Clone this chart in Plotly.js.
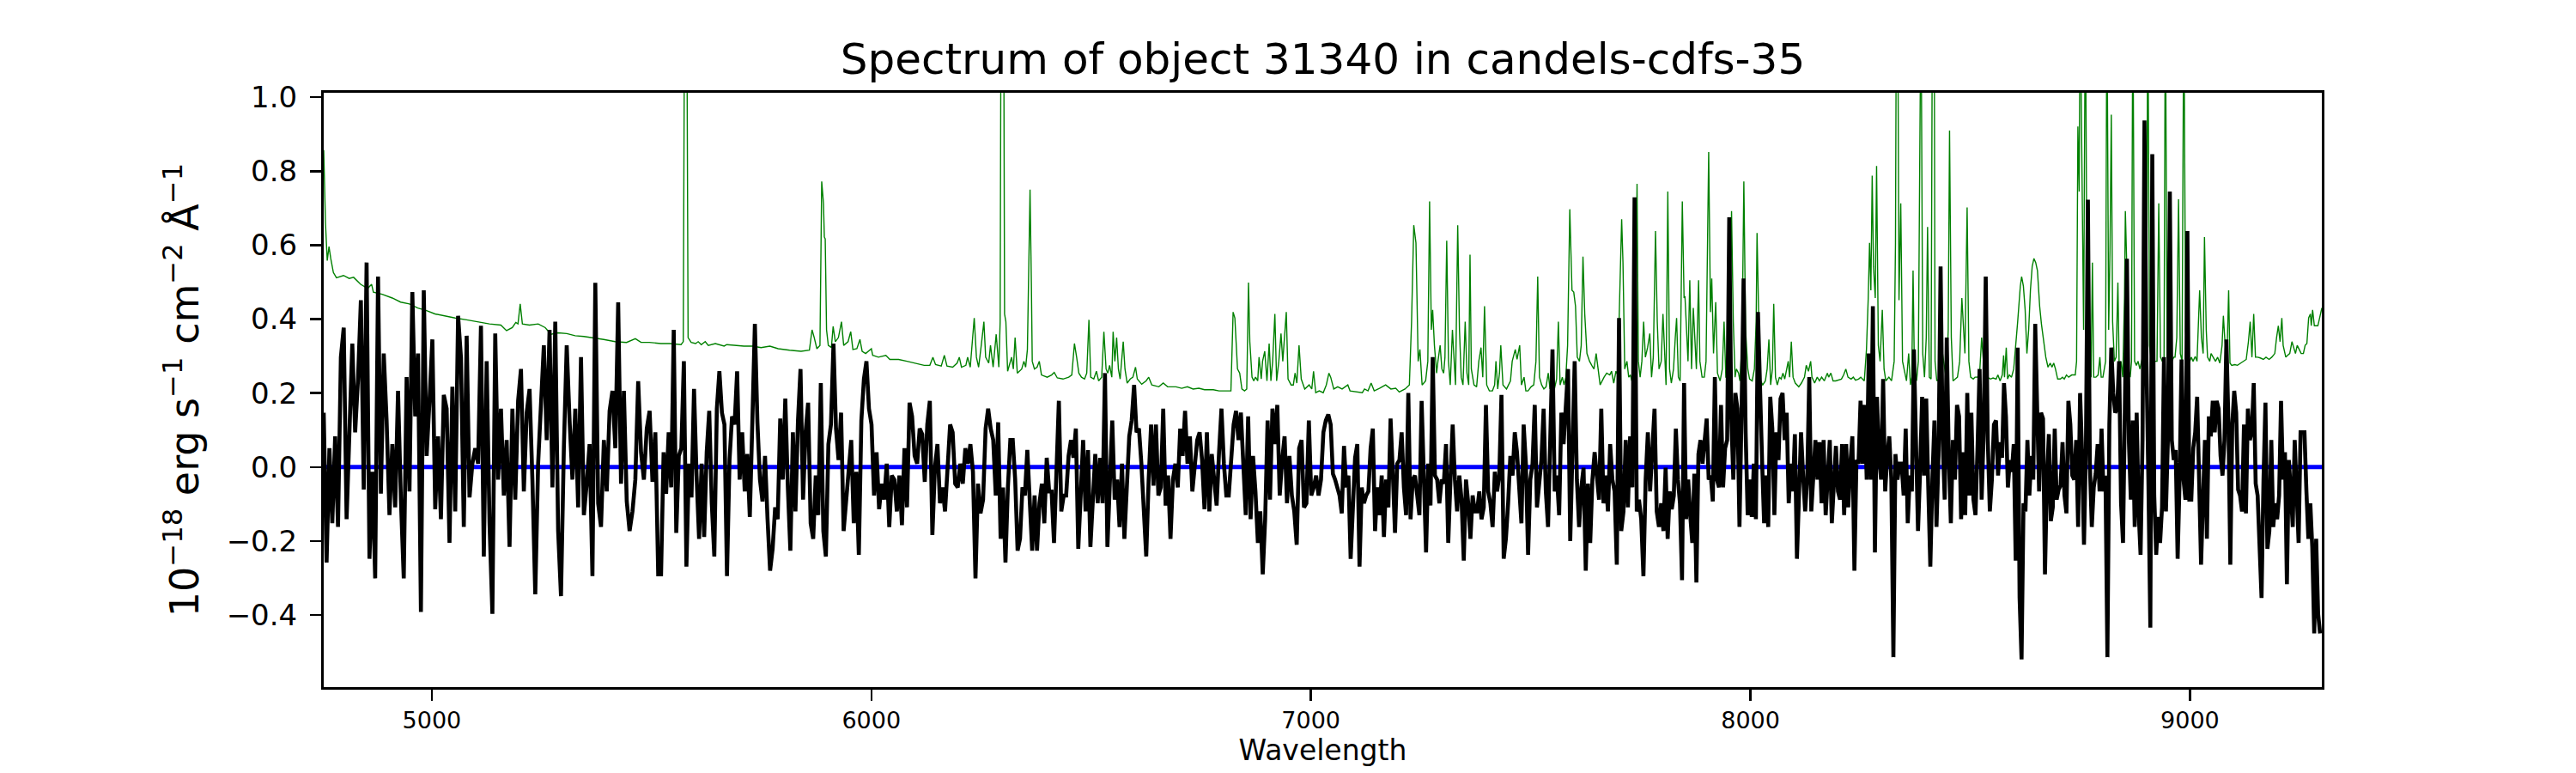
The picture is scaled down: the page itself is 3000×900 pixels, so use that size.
<!DOCTYPE html>
<html>
<head>
<meta charset="utf-8">
<script src="https://cdn.plot.ly/plotly-3.0.1.min.js"></script>
<style>html,body{margin:0;padding:0;background:#fff;}#chart{width:3000px;height:900px;}</style>
</head>
<body>
<div id="chart"></div>
<script>
// ---------- DATA ----------
const titleText = 'Spectrum of object 31340 in candels-cdfs-35';
const xLabel = 'Wavelength';
const yLabel = '10<sup>−18</sup> erg s<sup>−1</sup> cm<sup>−2</sup> Å<sup>−1</sup>';
const xTicks = [5000, 6000, 7000, 8000, 9000];
const yTicks = [-0.4, -0.2, 0.0, 0.2, 0.4, 0.6, 0.8, 1.0];

// observed spectrum: wavelength edges of six stretches, fluxes sampled evenly inside each
const segEdges = [4754, 5521.5, 6283, 7045, 7807, 8568, 9296];
const fluxSeg1 = [0.147,-0.258,0.051,-0.152,0.083,-0.162,0.297,0.377,-0.141,0.115,0.334,0.094,0.238,0.451,-0.061,0.553,-0.248,-0.013,-0.301,0.515,-0.072,0.307,0.126,-0.130,0.062,-0.109,0.206,-0.088,-0.301,0.243,-0.066,0.473,0.137,0.307,-0.392,0.478,0.030,0.179,0.345,-0.114,0.083,-0.141,0.195,0.158,-0.205,0.217,-0.120,0.409,0.297,-0.162,0.355,-0.082,0.009,0.051,0.009,0.382,-0.242,0.286,-0.152,-0.397,0.361,-0.034,0.158,-0.077,0.073,-0.216,0.158,-0.088,0.179,0.265,-0.066,0.147,0.211,-0.034,-0.344,0.009,0.190,0.329,0.073,0.371,-0.055,0.393,-0.173,-0.349,0.051,0.329,0.126,-0.034,0.158,-0.109,0.297,-0.130,-0.045,0.062,-0.295,0.498,-0.098,-0.162,0.073,-0.066,0.152,0.206,0.051,0.445,-0.045,0.206,-0.093,-0.173,-0.120,-0.034,0.232,0.040,-0.034,0.104,0.152,-0.040,0.094,-0.290];
const fluxSeg2 = [-0.290,0.040,-0.072,0.094,-0.055,0.371,-0.178,0.030,0.051,0.286,-0.269,0.009,-0.082,0.211,-0.023,-0.194,0.009,-0.189,0.040,0.152,-0.098,-0.242,0.158,0.259,0.147,0.115,-0.295,0.019,0.137,0.115,0.259,-0.034,0.094,-0.066,0.035,-0.135,0.121,0.387,0.121,-0.034,-0.093,0.030,-0.141,-0.280,-0.221,-0.109,-0.141,0.131,-0.034,0.185,-0.055,-0.226,0.094,-0.120,0.126,0.265,-0.088,0.094,0.174,-0.152,-0.194,-0.023,-0.130,0.227,-0.173,-0.242,0.062,0.115,0.334,0.104,0.019,0.147,-0.173,-0.088,-0.013,0.073,-0.152,-0.013,-0.237,0.126,0.238,0.286,0.158,0.115,-0.077,0.040,-0.114,-0.045,-0.088,0.009,-0.162,-0.023,-0.034,-0.120,-0.023,-0.157,0.051,-0.109,0.174,0.137,0.030,0.009,0.104,0.089,-0.040,0.115,0.179,-0.184,-0.002,0.062,-0.098,-0.055,-0.120,0.025,0.115,0.094,-0.045,-0.055,0.009,-0.045,0.051,0.009,0.062,-0.013,-0.301,-0.045,-0.125,-0.088,0.104,0.158,0.104,0.073];
const fluxSeg3 = [-0.077,0.121,-0.194,-0.055,-0.258,-0.055,0.073,0.073,-0.034,-0.226,-0.194,-0.055,-0.077,0.046,-0.098,-0.226,-0.077,-0.226,-0.098,-0.045,-0.152,0.025,-0.066,-0.066,-0.205,-0.045,0.179,-0.120,-0.077,-0.077,0.030,0.073,0.025,0.104,-0.221,-0.077,0.073,-0.120,0.046,-0.216,-0.109,0.035,-0.098,0.025,-0.098,0.254,-0.216,-0.034,0.126,-0.088,-0.034,-0.162,0.009,-0.194,-0.034,0.083,0.126,0.222,0.094,0.104,0.009,-0.120,-0.242,-0.034,0.115,-0.050,0.115,-0.077,-0.055,0.158,-0.104,-0.023,-0.194,-0.034,0.009,-0.055,0.104,0.030,0.152,0.009,0.083,-0.066,0.009,0.073,0.094,0.019,-0.114,0.094,-0.120,0.035,-0.034,-0.104,0.040,0.158,0.009,-0.077,-0.077,0.040,0.115,0.152,0.073,0.147,-0.018,-0.130,0.137,-0.141,0.030,-0.066,-0.205,-0.120,-0.290,-0.141,0.126,-0.088,0.158,0.062,0.168,-0.077,0.019,0.083,-0.098,0.030,-0.077,-0.120,-0.210,0.051,0.073,-0.109,-0.098,0.126,-0.077,-0.055,-0.023,-0.077,-0.034,0.094,0.126,0.142];
const fluxSeg4 = [0.115,-0.018,-0.034,-0.055,-0.077,-0.125,0.057,-0.055,-0.023,-0.248,-0.120,0.025,0.062,-0.269,-0.055,-0.098,-0.077,-0.066,0.051,0.104,-0.173,-0.055,-0.130,-0.023,-0.189,-0.034,-0.109,0.131,-0.013,-0.178,0.009,0.019,0.094,-0.055,-0.130,0.200,-0.141,-0.034,-0.023,-0.077,-0.130,0.179,-0.034,-0.231,0.009,-0.104,0.297,-0.023,-0.034,-0.098,-0.034,-0.045,0.062,-0.205,-0.034,0.115,-0.034,-0.120,-0.023,-0.088,-0.253,-0.034,-0.098,-0.194,-0.077,-0.120,-0.120,-0.066,-0.141,-0.109,0.168,-0.066,-0.098,-0.162,-0.013,-0.066,-0.023,0.195,-0.248,-0.194,-0.098,0.030,-0.023,0.094,0.040,-0.045,-0.152,0.115,0.009,-0.237,-0.034,0.009,0.168,-0.109,-0.055,0.019,0.158,-0.066,-0.162,0.126,0.318,-0.066,-0.023,-0.130,0.147,0.062,0.158,0.265,-0.200,0.051,0.286,-0.034,-0.162,-0.055,-0.002,-0.280,-0.045,-0.205,-0.034,0.040,-0.034,-0.088,0.158,-0.098,-0.023,-0.120,0.062,-0.034,-0.066,-0.264,0.403,-0.173,-0.120,0.073,-0.109,0.083,-0.055,0.729,-0.120,-0.088,-0.141,-0.295,-0.034,0.094,-0.066,0.073,0.158,-0.120,-0.162,-0.098,-0.173];
const fluxSeg5 = [-0.002,-0.194,-0.066,-0.114,-0.077,0.104,-0.034,-0.098,-0.306,0.227,-0.141,-0.034,-0.130,-0.205,-0.018,-0.312,0.035,0.073,0.009,0.083,0.131,-0.034,-0.023,-0.093,0.243,-0.034,-0.055,0.168,-0.055,0.051,0.073,0.675,0.137,-0.034,0.200,0.158,-0.162,0.147,0.510,0.094,-0.130,-0.034,-0.135,0.009,-0.141,0.419,0.179,0.019,-0.152,-0.023,-0.162,0.190,0.104,-0.130,0.094,0.019,0.185,0.200,0.073,0.147,-0.098,0.009,-0.066,0.089,-0.248,-0.034,0.094,-0.023,-0.120,-0.034,0.243,-0.120,-0.023,0.073,-0.034,0.067,-0.098,0.073,-0.130,-0.023,0.073,-0.152,-0.034,0.057,-0.066,-0.088,0.062,-0.130,0.062,-0.109,0.009,0.083,-0.280,0.019,0.009,0.179,0.009,0.168,-0.034,0.307,-0.034,0.435,-0.231,0.190,0.030,-0.034,0.238,-0.066,0.030,0.083,-0.034,-0.514,0.035,-0.034,0.009,0.009,-0.077,0.104,-0.152,-0.023,-0.066,0.318,0.073,-0.173,-0.013,0.190,-0.023,0.185,-0.055,-0.269,-0.034,0.126,-0.162,0.030,0.542,0.078,-0.088,0.350,0.030,-0.152,0.073,-0.034,0.168,0.137,-0.141,0.040,-0.130,0.200,-0.077,0.147,-0.088,-0.130,0.051,0.265,-0.088,0.094,0.515,0.073,-0.120,-0.034,0.115,0.126,-0.023];
const fluxSeg6 = [0.067,0.025,0.227,0.137,-0.055,0.019,-0.013,0.062,-0.253,0.323,-0.354,-0.520,-0.098,-0.120,0.073,-0.077,0.030,-0.034,0.387,0.158,-0.066,0.147,0.131,-0.290,-0.034,0.089,-0.146,-0.109,0.104,-0.088,-0.061,-0.050,0.067,-0.077,-0.125,0.179,0.115,-0.023,-0.034,0.073,-0.162,0.200,0.040,-0.210,0.051,0.723,0.009,-0.162,-0.055,-0.018,0.062,-0.066,0.104,-0.066,-0.023,-0.514,0.115,0.323,0.200,0.147,0.158,0.286,-0.098,-0.205,0.115,0.563,0.073,-0.088,0.126,-0.162,0.147,-0.120,-0.237,0.073,0.937,0.286,-0.034,-0.434,0.846,-0.077,-0.237,-0.135,-0.205,-0.109,0.297,-0.120,0.073,0.745,0.073,0.019,0.046,-0.248,-0.034,0.291,-0.034,-0.088,0.638,-0.088,-0.088,0.051,0.094,0.190,-0.034,-0.264,-0.088,0.073,-0.194,0.137,0.083,0.179,0.094,0.179,0.158,0.030,-0.023,0.073,0.345,0.126,-0.264,0.115,0.206,0.147,-0.061,-0.077,-0.120,0.115,-0.125,0.158,0.073,0.094,0.227,-0.045,-0.077,-0.205,-0.354,-0.034,0.174,-0.221,-0.173,0.073,-0.162,-0.098,-0.141,-0.077,0.179,-0.034,0.040,-0.317,0.019,-0.066,-0.162,0.073,-0.055,-0.205,0.094,0.094,0.094,-0.066,-0.194,-0.098,-0.216,-0.450,-0.194,-0.397,-0.450];

// noise / sky model (green)
const modelLam1 = [4754,4758,4762,4766,4770,4776,4783,4799,4812,4822,4838,4854,4863,4867,4887,4910,4929,4949,4968,4988,5007,5027,5053,5079,5105,5131,5157,5170,5183,5191,5196,5201,5206,5222,5242,5258,5271,5287,5307,5326,5346,5365,5391,5417,5443,5463,5476,5495];
const modelFlux1 = [0.857,0.660,0.558,0.596,0.564,0.526,0.512,0.518,0.510,0.513,0.494,0.483,0.494,0.473,0.467,0.457,0.446,0.441,0.430,0.423,0.414,0.409,0.403,0.398,0.393,0.387,0.384,0.369,0.377,0.391,0.387,0.441,0.387,0.384,0.387,0.377,0.359,0.363,0.361,0.355,0.353,0.350,0.345,0.339,0.337,0.347,0.337,0.337];
const modelLam2 = [5521,5541,5567,5572,5575,5580,5583,5590,5600,5606,5613,5622,5629,5645,5665,5671,5691,5710,5730,5749,5769,5788,5814,5840,5859,5865,5870,5876,5883,5887,5891,5893,5895,5898,5902,5909,5913,5918,5925,5932,5937,5941,5947,5953,5958,5967,5974,5979,5987,6000,6003,6016,6033,6042,6062,6081,6101,6120,6133,6140,6146,6159,6166,6172,6185,6195,6200,6205,6215,6219,6225,6230,6234,6239,6244,6250,6256,6260,6267,6271,6277];
const modelFlux2 = [0.334,0.334,0.331,0.339,1.30,1.30,0.350,0.337,0.334,0.339,0.331,0.339,0.329,0.334,0.327,0.331,0.329,0.327,0.327,0.323,0.327,0.320,0.316,0.313,0.316,0.371,0.350,0.320,0.329,0.772,0.713,0.622,0.617,0.371,0.329,0.323,0.380,0.339,0.350,0.393,0.329,0.334,0.339,0.366,0.318,0.320,0.345,0.313,0.307,0.320,0.302,0.297,0.302,0.291,0.291,0.286,0.281,0.275,0.275,0.297,0.277,0.273,0.302,0.273,0.270,0.281,0.297,0.270,0.275,0.297,0.270,0.339,0.403,0.297,0.270,0.329,0.393,0.297,0.281,0.329,0.270];
const modelLam3 = [6284,6290,6293,6295,6301,6303,6306,6310,6319,6323,6327,6332,6342,6347,6351,6355,6359,6361,6364,6366,6371,6377,6382,6387,6400,6410,6416,6423,6436,6449,6456,6462,6467,6472,6478,6485,6490,6495,6499,6506,6512,6517,6524,6529,6534,6538,6542,6547,6550,6554,6558,6562,6566,6573,6577,6582,6589,6595,6601,6605,6615,6625,6631,6638,6654,6664,6674,6693,6706,6719,6732,6745,6758,6778,6791,6818,6823,6827,6833,6838,6843,6849,6854,6858,6861,6866,6870,6874,6879,6882,6887,6890,6895,6900,6905,6909,6913,6918,6922,6927,6932,6936,6944,6948,6955,6960,6964,6968,6973,6978,6986,6996,7002,7006,7011,7019,7028,7035,7041];
const modelFlux3 = [0.359,0.270,0.393,1.30,1.30,0.414,0.393,0.259,0.297,0.265,0.350,0.254,0.265,0.286,0.270,0.318,0.606,0.750,0.499,0.286,0.265,0.270,0.286,0.249,0.243,0.249,0.256,0.241,0.238,0.243,0.249,0.334,0.297,0.254,0.243,0.238,0.254,0.398,0.243,0.238,0.259,0.233,0.243,0.366,0.265,0.254,0.275,0.243,0.366,0.286,0.350,0.265,0.238,0.339,0.265,0.227,0.238,0.243,0.270,0.238,0.224,0.233,0.243,0.222,0.217,0.227,0.217,0.217,0.213,0.217,0.211,0.213,0.209,0.209,0.206,0.206,0.419,0.403,0.265,0.254,0.211,0.206,0.211,0.499,0.339,0.243,0.233,0.243,0.233,0.297,0.238,0.286,0.313,0.233,0.334,0.233,0.286,0.414,0.233,0.286,0.361,0.286,0.419,0.238,0.222,0.222,0.254,0.227,0.329,0.238,0.211,0.222,0.211,0.259,0.201,0.206,0.201,0.222,0.254];
const modelLam4 = [7045,7052,7061,7071,7078,7084,7089,7104,7117,7122,7130,7137,7144,7156,7170,7182,7193,7201,7214,7224,7229,7234,7239,7244,7248,7253,7261,7266,7270,7274,7277,7281,7286,7289,7294,7298,7302,7305,7309,7313,7317,7322,7325,7329,7334,7338,7342,7346,7351,7355,7359,7362,7365,7371,7377,7382,7387,7391,7395,7400,7406,7413,7418,7421,7425,7429,7432,7437,7445,7454,7458,7465,7469,7475,7479,7485,7489,7494,7501,7507,7512,7516,7520,7525,7530,7535,7540,7544,7550,7554,7559,7563,7567,7572,7576,7580,7584,7589,7594,7598,7602,7606,7611,7615,7619,7623,7628,7634,7639,7644,7649,7654,7658,7667,7673,7680,7684,7689,7694,7698,7703,7707,7710,7714,7719,7723,7727,7730,7733,7738,7742,7745,7749,7753,7757,7761,7766,7771,7775,7779,7784,7788,7792,7797,7801];
const modelFlux4 = [0.243,0.211,0.217,0.211,0.217,0.222,0.206,0.203,0.201,0.211,0.206,0.227,0.206,0.213,0.222,0.211,0.213,0.203,0.211,0.222,0.393,0.654,0.606,0.286,0.318,0.222,0.233,0.286,0.718,0.371,0.425,0.329,0.254,0.286,0.329,0.265,0.254,0.297,0.612,0.286,0.222,0.371,0.297,0.222,0.654,0.371,0.243,0.222,0.393,0.254,0.222,0.574,0.265,0.222,0.217,0.286,0.323,0.243,0.435,0.222,0.206,0.206,0.222,0.286,0.211,0.254,0.329,0.222,0.211,0.233,0.286,0.318,0.291,0.329,0.222,0.243,0.206,0.206,0.217,0.222,0.286,0.515,0.243,0.222,0.211,0.217,0.254,0.211,0.270,0.211,0.238,0.393,0.222,0.243,0.222,0.243,0.329,0.697,0.478,0.473,0.435,0.297,0.286,0.329,0.569,0.414,0.307,0.286,0.275,0.265,0.307,0.265,0.222,0.243,0.254,0.249,0.259,0.227,0.259,0.249,0.521,0.670,0.553,0.265,0.286,0.243,0.249,0.233,0.254,0.286,0.766,0.286,0.243,0.286,0.393,0.297,0.323,0.361,0.243,0.297,0.638,0.393,0.265,0.286,0.414];
const modelLam5 = [7808,7812,7816,7820,7825,7829,7832,7836,7840,7845,7849,7851,7855,7858,7862,7866,7870,7873,7877,7882,7885,7890,7895,7899,7905,7909,7912,7916,7921,7925,7931,7936,7940,7944,7949,7953,7957,7961,7965,7968,7973,7976,7981,7985,7989,7994,7998,8004,8009,8013,8015,8019,8023,8028,8034,8038,8042,8046,8050,8053,8057,8061,8066,8070,8074,8078,8082,8086,8089,8093,8097,8102,8110,8116,8123,8127,8132,8137,8140,8146,8152,8157,8162,8168,8175,8178,8183,8188,8194,8201,8207,8212,8217,8222,8229,8234,8239,8246,8251,8259,8264,8268,8271,8274,8277,8280,8284,8287,8291,8295,8300,8304,8308,8315,8321,8327,8330,8332,8335,8338,8342,8346,8350,8355,8360,8364,8367,8370,8373,8378,8382,8385,8388,8392,8396,8400,8403,8407,8411,8414,8418,8420,8424,8429,8432,8437,8442,8446,8450,8453,8457,8461,8466,8471,8476,8481,8484,8488,8493,8497,8501,8507,8511,8517,8522,8526,8530,8535,8539,8546,8552,8559,8563];
const modelFlux5 = [0.222,0.745,0.265,0.227,0.265,0.350,0.403,0.243,0.233,0.718,0.457,0.462,0.350,0.286,0.505,0.265,0.430,0.371,0.265,0.505,0.286,0.243,0.243,0.286,0.852,0.419,0.510,0.307,0.446,0.254,0.233,0.265,0.393,0.243,0.238,0.286,0.692,0.393,0.243,0.265,0.254,0.233,0.339,0.772,0.371,0.265,0.238,0.233,0.265,0.393,0.633,0.393,0.233,0.222,0.233,0.265,0.345,0.222,0.265,0.441,0.243,0.222,0.243,0.238,0.254,0.238,0.265,0.286,0.243,0.339,0.243,0.227,0.217,0.227,0.243,0.275,0.259,0.286,0.243,0.227,0.243,0.233,0.243,0.233,0.254,0.243,0.254,0.233,0.233,0.235,0.238,0.249,0.265,0.243,0.238,0.243,0.235,0.238,0.243,0.233,0.318,0.457,0.606,0.478,0.788,0.542,0.457,0.814,0.329,0.286,0.425,0.265,0.233,0.243,0.233,0.286,0.606,1.30,1.30,0.451,0.713,0.286,0.265,0.233,0.307,0.222,0.243,0.531,0.265,0.233,0.286,1.30,1.30,0.307,0.243,0.350,0.649,0.243,0.238,1.30,1.30,0.286,0.233,0.238,0.233,0.307,0.265,0.233,0.371,0.910,0.350,0.233,0.238,0.243,0.286,0.457,0.393,0.307,0.702,0.286,0.243,0.238,0.243,0.243,0.265,0.350,0.286,0.265,0.243,0.238,0.241,0.238,0.249];
const modelLam6 = [8568,8573,8576,8578,8582,8585,8589,8594,8599,8604,8608,8614,8617,8621,8625,8629,8633,8637,8641,8645,8649,8653,8658,8662,8667,8672,8677,8682,8686,8690,8694,8699,8705,8710,8714,8719,8724,8731,8739,8742,8745,8748,8750,8754,8758,8762,8766,8771,8775,8778,8781,8786,8791,8795,8798,8802,8808,8811,8815,8818,8821,8824,8828,8832,8836,8839,8843,8847,8851,8853,8856,8860,8864,8867,8870,8874,8878,8882,8886,8890,8894,8897,8901,8904,8908,8912,8916,8920,8925,8929,8933,8937,8941,8944,8948,8952,8955,8959,8963,8966,8970,8974,8978,8982,8986,8990,8994,8998,9003,9007,9012,9016,9020,9022,9026,9030,9033,9037,9040,9045,9048,9053,9058,9063,9068,9073,9076,9079,9084,9088,9091,9095,9102,9108,9115,9121,9128,9133,9137,9141,9145,9149,9154,9160,9167,9173,9180,9186,9193,9197,9201,9205,9209,9212,9218,9222,9227,9232,9236,9240,9244,9248,9253,9258,9262,9266,9270,9274,9276,9279,9283,9287,9291,9300];
const modelFlux6 = [0.233,0.249,0.302,0.243,0.323,0.238,0.249,0.243,0.265,0.329,0.393,0.489,0.515,0.489,0.425,0.307,0.371,0.478,0.542,0.564,0.553,0.531,0.435,0.387,0.339,0.297,0.270,0.281,0.270,0.281,0.265,0.238,0.238,0.243,0.238,0.249,0.243,0.249,0.249,0.286,0.921,0.745,1.30,0.820,0.371,1.30,0.393,0.286,0.243,0.553,0.243,0.243,0.249,0.297,0.243,0.243,0.286,1.30,0.371,0.585,0.953,0.393,0.286,0.297,0.499,0.265,0.286,0.243,0.457,0.692,0.553,0.265,0.243,0.286,1.30,0.286,0.275,0.286,0.265,0.286,0.307,0.286,0.286,1.30,0.329,0.286,0.318,0.286,0.286,0.713,0.297,0.286,0.297,1.30,0.297,0.286,0.318,0.286,0.297,0.297,0.350,0.724,0.307,0.286,1.30,0.371,0.286,0.281,0.297,0.286,0.299,0.286,0.414,0.478,0.350,0.307,0.622,0.371,0.297,0.286,0.307,0.297,0.286,0.297,0.281,0.329,0.409,0.350,0.286,0.478,0.281,0.275,0.277,0.275,0.281,0.286,0.291,0.339,0.393,0.297,0.414,0.297,0.297,0.295,0.291,0.297,0.291,0.297,0.307,0.350,0.382,0.339,0.403,0.329,0.297,0.302,0.307,0.339,0.323,0.307,0.329,0.318,0.307,0.307,0.329,0.334,0.403,0.414,0.382,0.425,0.382,0.382,0.382,0.43];

// zero reference level
const zeroLam = [4754, 9300];
const zeroFlux = [0, 0];

// ---------- BUILD ----------
const fluxSegs = [fluxSeg1, fluxSeg2, fluxSeg3, fluxSeg4, fluxSeg5, fluxSeg6];
const specLam = [], specFlux = [];
fluxSegs.forEach((seg, k) => {
  const a = segEdges[k], b = segEdges[k + 1];
  const last = k === fluxSegs.length - 1;
  const n = seg.length;
  seg.forEach((v, i) => {
    const t = last ? i / (n - 1) : i / n;
    specLam.push(a + t * (b - a));
    specFlux.push(v);
  });
});

const mLams = [modelLam1, modelLam2, modelLam3, modelLam4, modelLam5, modelLam6];
const mFluxes = [modelFlux1, modelFlux2, modelFlux3, modelFlux4, modelFlux5, modelFlux6];
const modelLam = [], modelFlux = [];
mLams.forEach((l, k) => {
  if (l.length !== mFluxes[k].length) throw new Error('model segment ' + (k + 1) + ' length mismatch ' + l.length + ' vs ' + mFluxes[k].length);
  l.forEach((v, i) => { modelLam.push(v); modelFlux.push(mFluxes[k][i]); });
});

const FONT = 'DejaVu Sans, Verdana, sans-serif';

const traces = [
  {x: modelLam, y: modelFlux, type: 'scatter', mode: 'lines',
   line: {color: '#008000', width: 1.4}, hoverinfo: 'skip'},
  {x: zeroLam, y: zeroFlux, type: 'scatter', mode: 'lines',
   line: {color: '#0000ff', width: 5}, hoverinfo: 'skip'},
  {x: specLam, y: specFlux, type: 'scatter', mode: 'lines',
   line: {color: '#000000', width: 4.6}, hoverinfo: 'skip'}
];

const layout = {
  width: 3000, height: 900,
  margin: {l: 377, r: 296, t: 108, b: 100, pad: 0},
  paper_bgcolor: '#ffffff', plot_bgcolor: '#ffffff',
  showlegend: false,
  font: {family: FONT, color: '#000000'},
  title: {text: titleText, font: {size: 50, family: FONT, color: '#000'},
          x: 0.5, xref: 'paper', xanchor: 'center',
          y: 1 - 68 / 900, yref: 'container', yanchor: 'middle'},
  xaxis: {
    range: [4754, 9300], tickvals: xTicks, ticktext: xTicks.map(String),
    ticks: 'outside', ticklen: 13, tickwidth: 2.5, tickcolor: '#000',
    tickfont: {size: 27, family: FONT, color: '#000'},
    showline: true, linewidth: 3, linecolor: '#000', mirror: true,
    showgrid: false, zeroline: false,
    title: {text: xLabel, font: {size: 33, family: FONT, color: '#000'}, standoff: 8}
  },
  yaxis: {
    range: [-0.595, 1.012], tickvals: yTicks, tickformat: '.1f',
    ticks: 'outside', ticklen: 13, tickwidth: 2.5, tickcolor: '#000',
    tickfont: {size: 34, family: FONT, color: '#000'},
    ticklabelstandoff: 8,
    showline: true, linewidth: 3, linecolor: '#000', mirror: true,
    showgrid: false, zeroline: false,
    title: {text: yLabel, font: {size: 46, family: FONT, color: '#000'}, standoff: 18}
  }
};

Plotly.newPlot('chart', traces, layout, {displayModeBar: false, staticPlot: true});
</script>
</body>
</html>
